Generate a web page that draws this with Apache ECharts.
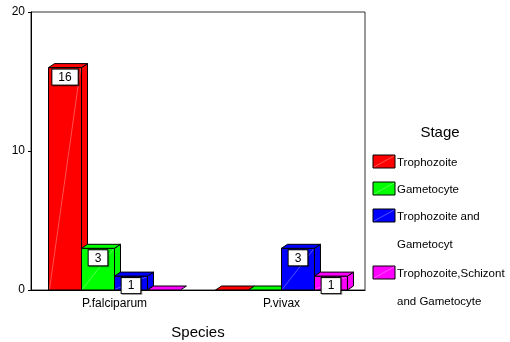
<!DOCTYPE html>
<html>
<head>
<meta charset="utf-8">
<script src="https://cdn.jsdelivr.net/npm/echarts@6/dist/echarts.min.js"></script>
<style>
  html, body { margin: 0; padding: 0; background: #fff; }
  #chart { width: 510px; height: 342px; }
</style>
</head>
<body>
<div id="chart"></div>
<script>
// Species on the category axis
const categories = ['P.falciparum', 'P.vivax'];

// Counts per stage, one value per species
const trophozoite = [16, 0];
const gametocyte = [3, 0];
const trophAndGametocyte = [1, 3];
const trophSchizontGametocyte = [0, 1];

const stageNames = [
  'Trophozoite',
  'Gametocyte',
  'Trophozoite and\nGametocyt',
  'Trophozoite,Schizont\nand Gametocyte'
];
const stageValues = [trophozoite, gametocyte, trophAndGametocyte, trophSchizontGametocyte];
const stageColors = ['#ff0000', '#00ff00', '#0000ff', '#ff00ff'];

const yTicks = [0, 10, 20];

const FONT = '"Liberation Sans", Arial, sans-serif';
const DEPTH_X = 6, DEPTH_Y = 4;
const GROUP_FILL = 0.79;

// Draws one 3D-style block: front face, side, top and a value tag
function renderBlock(params, api) {
  const s = params.seriesIndex;
  const n = stageNames.length;
  const cat = api.value(0);
  const val = api.value(1);
  const base = api.coord([cat, 0]);
  const top = api.coord([cat, val]);
  const band = api.size([1, 0])[0];
  const barW = band * GROUP_FILL / n;
  const x0 = base[0] - (n / 2) * barW + s * barW;
  const x1 = x0 + barW;
  const yb = base[1];
  const yt = top[1];
  const color = stageColors[s];
  const edge = { stroke: '#000', lineWidth: 1, fill: color };
  const children = [];

  if (val > 0) {
    children.push({
      type: 'rect',
      shape: { x: x0, y: yt, width: barW, height: yb - yt },
      style: edge
    });
    children.push({
      type: 'polygon',
      shape: { points: [[x1, yb], [x1 + DEPTH_X, yb - DEPTH_Y], [x1 + DEPTH_X, yt - DEPTH_Y], [x1, yt]] },
      style: edge
    });
    children.push({
      type: 'line',
      shape: { x1: x0 + 1, y1: yb - 1, x2: x1 - 1, y2: yt + 1 },
      style: { stroke: 'rgba(255,255,255,0.45)', lineWidth: 0.7 }
    });
  }
  children.push({
    type: 'polygon',
    shape: { points: [[x0, yt], [x1, yt], [x1 + DEPTH_X, yt - DEPTH_Y], [x0 + DEPTH_X, yt - DEPTH_Y]] },
    style: edge
  });
  if (val > 0) {
    children.push({
      type: 'text',
      z2: 100,
      x: (x0 + x1) / 2,
      y: yt + 2,
      style: {
        text: String(val),
        font: '12px ' + FONT,
        fill: '#000',
        align: 'center',
        verticalAlign: 'top',
        backgroundColor: '#fff',
        borderColor: '#000',
        borderWidth: 1,
        padding: [2, 6, 1, 6],
        shadowColor: 'rgba(0,0,0,0.35)',
        shadowOffsetX: 1,
        shadowOffsetY: 1
      }
    });
  }
  return { type: 'group', children };
}

const series = stageNames.map((name, s) => ({
  type: 'custom',
  name,
  renderItem: renderBlock,
  encode: { x: 0, y: 1 },
  data: categories.map((c, i) => [i, stageValues[s][i]])
}));

// Legend drawn as graphics so the swatch lines up with the first text line
const legendX = 373, legendTop = 163, rowH = 27, lineH = 28;
const legendItems = [];
let rowY = legendTop;
stageNames.forEach((name, s) => {
  const lines = name.split('\n').length;
  legendItems.push({
    type: 'rect',
    shape: { x: legendX, y: rowY - 8, width: 22, height: 13 },
    style: { fill: stageColors[s], stroke: '#000', lineWidth: 1 }
  });
  legendItems.push({
    type: 'line',
    shape: { x1: legendX + 1, y1: rowY + 4, x2: legendX + 21, y2: rowY - 7 },
    style: { stroke: 'rgba(255,255,255,0.45)', lineWidth: 0.7 }
  });
  legendItems.push({
    type: 'text',
    x: legendX + 24,
    y: rowY - lineH / 2,
    style: { text: name, font: '11.5px ' + FONT, fill: '#000', lineHeight: lineH, verticalAlign: 'top' }
  });
  rowY += lines === 1 ? rowH : rowH + 30;
});
legendItems.push({
  type: 'text',
  x: 440,
  y: 133,
  style: { text: 'Stage', font: '15px ' + FONT, fill: '#000', align: 'center', verticalAlign: 'middle' }
});

const chart = echarts.init(document.getElementById('chart'), null, { renderer: 'canvas' });
chart.setOption({
  animation: false,
  backgroundColor: '#fff',
  grid: {
    left: 31, right: 145, top: 12, bottom: 52,
    containLabel: false,
    outerBoundsMode: 'none',
    show: true, borderColor: '#333', borderWidth: 1, backgroundColor: 'transparent'
  },
  xAxis: {
    type: 'category',
    data: categories,
    name: 'Species',
    nameLocation: 'middle',
    nameGap: 35,
    nameTextStyle: { fontFamily: FONT, fontSize: 15, color: '#000' },
    axisLine: { lineStyle: { color: '#000', width: 1 } },
    axisTick: { show: false },
    axisLabel: { fontFamily: FONT, fontSize: 12, color: '#000', margin: 8 },
    splitLine: { show: false }
  },
  yAxis: {
    type: 'value',
    min: yTicks[0],
    max: yTicks[yTicks.length - 1],
    interval: yTicks[1] - yTicks[0],
    axisLine: { show: true, lineStyle: { color: '#000', width: 1 } },
    axisTick: { show: true, length: 3, lineStyle: { color: '#000' } },
    axisLabel: { fontFamily: FONT, fontSize: 12, color: '#000', margin: 6 },
    splitLine: { show: false }
  },
  series,
  graphic: legendItems
});
</script>
</body>
</html>
